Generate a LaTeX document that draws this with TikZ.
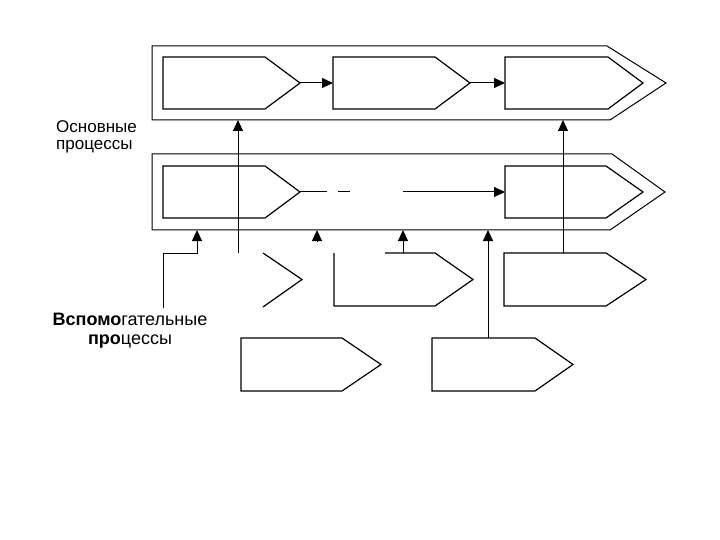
\documentclass[tikz,border=0pt]{standalone}
\usepackage{fontspec}
\setmainfont{Liberation Sans}
\usetikzlibrary{arrows.meta}
\newcommand{\procbox}[6]{%
  \coordinate (#1-nw) at (#2,#3);
  \coordinate (#1-ne) at (#4,#3);
  \coordinate (#1-tip) at (#5,{(#3+#6)/2});
  \coordinate (#1-se) at (#4,#6);
  \coordinate (#1-sw) at (#2,#6);
  \coordinate (#1-w) at (#2,{(#3+#6)/2});
  \draw[boxline] (#1-nw) -- (#1-ne) -- (#1-tip) -- (#1-se) -- (#1-sw) -- cycle;}
\tikzset{
  boxline/.style={line width=1.2pt, line join=miter},
  frameline/.style={line width=1pt, line join=miter},
  conn/.style={line width=1pt, -{Triangle[width=10pt,length=11pt]}},
  plain/.style={line width=1pt},
  lab/.style={inner sep=0pt, text=black}
}
\begin{document}
\begin{tikzpicture}[x=1pt,y=-1pt]
\fill[white] (0,0) rectangle (720,540);
\useasboundingbox (0,0) rectangle (720,540);

% outer frames
\draw[frameline] (152,46) -- (607,46) -- (666,83) -- (610,120) -- (152,120) -- cycle;
\draw[frameline] (152,154) -- (612,154) -- (665,192) -- (610,230) -- (152,230) -- cycle;

% main process boxes
\procbox{T1}{163}{57}{265}{300}{109}
\procbox{T2}{333}{57}{435}{470}{109}
\procbox{T3}{505}{57}{608}{643}{109}
\procbox{M1}{163}{166}{265}{300}{218}
\procbox{M3}{505}{166}{606}{643}{218}

% supporting process boxes
\coordinate (R2-gap) at (385,253);
\coordinate (R2-ne) at (435,253);
\coordinate (R2-tip) at (473,279.5);
\coordinate (R2-se) at (435,306);
\coordinate (R2-sw) at (334,306);
\coordinate (R2-nw) at (334,253);
\draw[boxline] (R2-gap) -- (R2-ne) -- (R2-tip) -- (R2-se) -- (R2-sw) -- (R2-nw);
\procbox{R3}{504}{253}{606}{646}{306}
\coordinate (R1-a) at (263,253);
\coordinate (R1-tip) at (302,279.5);
\coordinate (R1-b) at (263,307);
\draw[boxline] (R1-a) -- (R1-tip) -- (R1-b);
\procbox{B1}{241}{338}{342}{381}{391}
\procbox{B2}{432}{338}{535}{573}{391}

% connectors in the main rows
\draw[conn] (T1-tip) -- (T2-w);
\draw[conn] (T2-tip) -- (T3-w);
\coordinate (m1gap) at (350,192);
\draw[plain, dash pattern=on 27pt off 11pt on 12pt off 40pt] (M1-tip) -- (m1gap);
\coordinate (marrow) at (403,192);
\draw[conn] (marrow) -- (M3-w);

% vertical connectors to the top frame
\coordinate (v1s) at (238,253);
\coordinate (v1e) at (238,120);
\draw[conn] (v1s) -- (v1e);
\coordinate (v2s) at (563,253);
\coordinate (v2e) at (563,120);
\draw[conn] (v2s) -- (v2e);

% connectors to the middle frame
\coordinate (s1s) at (163,308);
\coordinate (s1k) at (197,253);
\coordinate (s1e) at (197,230);
\draw[conn] (s1s) |- (s1k) -- (s1e);
\coordinate (s2s) at (317,242);
\coordinate (s2e) at (317,230);
\draw[conn] (s2s) -- (s2e);
\coordinate (s3s) at (403,253);
\coordinate (s3e) at (403,230);
\draw[conn] (s3s) -- (s3e);
\coordinate (s4s) at (488,338);
\coordinate (s4e) at (488,230);
\draw[conn] (s4s) -- (s4e);

% labels
\node[lab, anchor=north west, align=left, font=\fontsize{17}{17}\selectfont] (mainlab) at (56,120) {Основные\\процессы};
\node[lab, anchor=north, align=center, font=\fontsize{18}{19}\selectfont] (suplab) at (130,312.5) {{\bfseries Вспомо}гательные\\{\bfseries про}цессы};
\end{tikzpicture}
\end{document}
